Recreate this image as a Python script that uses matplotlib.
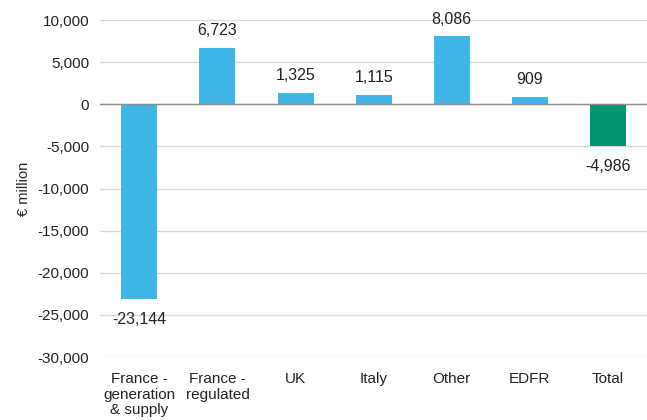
import numpy as np
import matplotlib.pyplot as plt
import matplotlib.ticker as ticker

plt.rcParams['font.family'] = ['Liberation Sans', 'DejaVu Sans']

categories = ['France -\ngeneration\n& supply', 'France -\nregulated', 'UK', 'Italy', 'Other', 'EDFR', 'Total']
values = [-23144, 6723, 1325, 1115, 8086, 909, -4986]
labels = ['-23,144', '6,723', '1,325', '1,115', '8,086', '909', '-4,986']

blue = '#41b6e6'
green = '#00936f'
colors = [blue] * 6 + [green]

fig = plt.figure(figsize=(6.47, 4.2), dpi=100)
ax = fig.add_axes([0.155, 0.15, 0.845, 0.802])

x = np.arange(len(categories))
ax.bar(x, values, width=0.46, color=colors, zorder=3)

for xi, v, lab in zip(x, values, labels):
    if v >= 0:
        ax.annotate(lab, (xi, v), xytext=(0, 7), textcoords='offset points',
                    ha='center', va='bottom', fontsize=11.5, color='#222222')
    else:
        ax.annotate(lab, (xi, v), xytext=(0, -9), textcoords='offset points',
                    ha='center', va='top', fontsize=11.5, color='#222222')

ax.set_xlim(-0.5, len(categories) - 0.5)
ax.set_ylim(-30000, 10000)
ax.yaxis.set_major_locator(ticker.MultipleLocator(5000))
ax.yaxis.set_major_formatter(ticker.FuncFormatter(lambda v, p: '{:,.0f}'.format(v)))
ax.grid(axis='y', color='#d9d9d9', linewidth=1, zorder=0)
ax.axhline(0, color='#8c8c8c', linewidth=1, zorder=4)

ax.set_xticks(x)
ax.set_xticklabels(categories, fontsize=11, color='#222222', linespacing=1.12)
ax.tick_params(axis='y', labelsize=11, labelcolor='#222222', length=0, pad=8)
ax.tick_params(axis='x', length=0, pad=11)
for s in ax.spines.values():
    s.set_visible(False)

ax.set_ylabel('€ million', fontsize=10.5, color='#222222', labelpad=5)

fig.savefig('out.png', dpi=100)
